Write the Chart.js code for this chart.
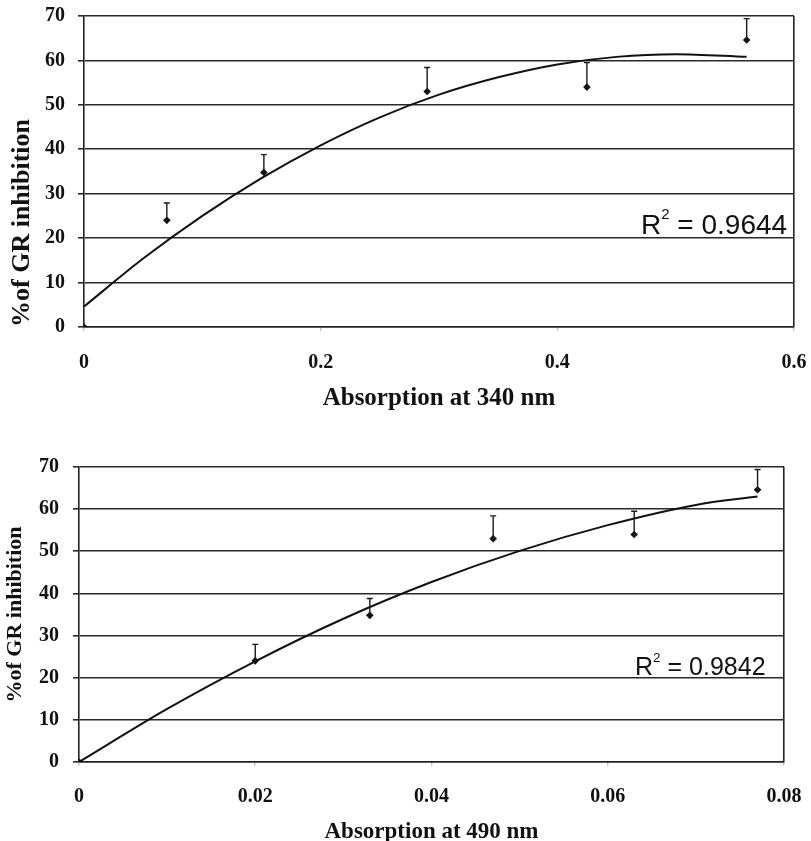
<!DOCTYPE html>
<html>
<head>
<meta charset="utf-8">
<script src="https://cdn.jsdelivr.net/npm/chart.js@4.4.1/dist/chart.umd.min.js"></script>
<style>
  html, body { margin: 0; padding: 0; background: #fff; }
  body { width: 811px; height: 841px; position: relative; overflow: hidden; }
  .wrap { position: absolute; left: 0; width: 811px; }
  #w1 { top: 0; height: 420px; }
  #w2 { top: 420px; height: 421px; }
  .r2 { position: absolute; font-family: "Liberation Sans", Arial, sans-serif; color: #111; white-space: nowrap; }
  .r2 .sup { position: relative; }
  #r2a { left: 641px; top: 211px; font-size: 28px; line-height: 28px; }
  #r2a .sup { font-size: 15px; top: -15px; }
  #r2b { left: 635px; top: 654px; font-size: 25px; line-height: 25px; }
  #r2b .sup { font-size: 13.5px; top: -13px; }
</style>
</head>
<body>
<div class="wrap" id="w1"><canvas id="c1" width="811" height="420"></canvas></div>
<div class="wrap" id="w2"><canvas id="c2" width="811" height="421"></canvas></div>
<div class="r2" id="r2a">R<span class="sup">2</span> = <span id="r2aVal"></span></div>
<div class="r2" id="r2b">R<span class="sup">2</span> = <span id="r2bVal"></span></div>
<script>
// ---- data ----
const absorb340 = [0, 0.07, 0.152, 0.29, 0.425, 0.56];
const absorb490 = [0, 0.02, 0.033, 0.047, 0.063, 0.077];
const inhibition = [0, 24.0, 34.8, 53.0, 54.0, 64.6];
const inhibitionErrTop = [0, 27.9, 38.8, 58.4, 59.5, 69.4];

// trend lines
const fit340X = [0, 0.05, 0.1, 0.15, 0.2, 0.25, 0.3, 0.35, 0.4, 0.45, 0.5, 0.56];
const fit340Y = [4.6, 15.4, 25.0, 33.5, 40.9, 47.2, 52.3, 56.2, 59.1, 60.8, 61.4, 60.8];
const fit490X = [0, 0.01, 0.02, 0.03, 0.04, 0.05, 0.06, 0.07, 0.077];
const fit490Y = [0, 12.6, 23.9, 34.0, 42.7, 50.1, 56.2, 61.0, 63.0];

// tick values and labels
const xTicks340 = [0, 0.2, 0.4, 0.6];
const xTickLabels340 = ['0', '0.2', '0.4', '0.6'];
const xTicks490 = [0, 0.02, 0.04, 0.06, 0.08];
const xTickLabels490 = ['0', '0.02', '0.04', '0.06', '0.08'];
const yTicks = [0, 10, 20, 30, 40, 50, 60, 70];
const yTickLabels = ['0', '10', '20', '30', '40', '50', '60', '70'];

// texts
const yTitle = '%of GR inhibition';
const xTitle340 = 'Absorption at 340 nm';
const xTitle490 = 'Absorption at 490 nm';
const r2Top = '0.9644';
const r2Bottom = '0.9842';

document.getElementById('r2aVal').textContent = r2Top;
document.getElementById('r2bVal').textContent = r2Bottom;

const SERIF = '"Liberation Serif", "Times New Roman", serif';

const errorBarPlugin = {
  id: 'errorBars',
  afterDatasetsDraw(chart) {
    const ctx = chart.ctx;
    const xs = chart.scales.x, ys = chart.scales.y;
    chart.data.datasets.forEach(ds => {
      if (!ds.errorTop) return;
      ctx.save();
      ctx.strokeStyle = '#1a1a1a';
      ctx.lineWidth = 1.4;
      ds.data.forEach((p, i) => {
        const top = ds.errorTop[i];
        if (!(top > p.y)) return;
        const px = xs.getPixelForValue(p.x);
        const py = ys.getPixelForValue(p.y);
        const pt = ys.getPixelForValue(top);
        ctx.beginPath();
        ctx.moveTo(px, py);
        ctx.lineTo(px, pt);
        ctx.moveTo(px - 3, pt);
        ctx.lineTo(px + 3, pt);
        ctx.stroke();
      });
      ctx.restore();
    });
  }
};

function zeroPad(s) {
  s.paddingTop = 0; s.paddingBottom = 0; s.paddingLeft = 0; s.paddingRight = 0;
}

function makeChart(id, cfg) {
  return new Chart(document.getElementById(id), {
    type: 'scatter',
    data: {
      datasets: [
        {
          label: 'measured',
          data: cfg.xs.map((x, i) => ({ x: x, y: inhibition[i] })),
          errorTop: inhibitionErrTop,
          pointStyle: 'rectRot',
          pointRadius: 3.8,
          backgroundColor: '#111',
          borderColor: '#111',
          borderWidth: 0,
          showLine: false
        },
        {
          label: 'fit',
          data: cfg.fitX.map((x, i) => ({ x: x, y: cfg.fitY[i] })),
          showLine: true,
          pointRadius: 0,
          borderColor: '#111',
          borderWidth: 2,
          cubicInterpolationMode: 'monotone',
          fill: false
        }
      ]
    },
    options: {
      responsive: false,
      animation: false,
      devicePixelRatio: 1,
      layout: { padding: cfg.pad },
      plugins: { legend: { display: false }, tooltip: { enabled: false } },
      scales: {
        x: {
          type: 'linear',
          min: cfg.xTicks[0],
          max: cfg.xTicks[cfg.xTicks.length - 1],
          afterBuildTicks: s => { s.ticks = cfg.xTicks.map(v => ({ value: v })); },
          afterFit: s => { s.height = cfg.xH; zeroPad(s); },
          ticks: {
            padding: cfg.xTickPad,
            color: '#111',
            maxRotation: 0,
            autoSkip: false,
            font: { family: SERIF, weight: 'bold', size: 20 },
            callback: (v, i) => cfg.xLabels[i]
          },
          grid: {
            drawOnChartArea: true,
            color: c => (c.index === cfg.xTicks.length - 1 ? '#222' : 'rgba(0,0,0,0)'),
            lineWidth: 1.6,
            drawTicks: true,
            tickLength: 4,
            tickColor: 'rgba(0,0,0,0.3)',
            tickWidth: 1
          },
          border: { display: true, color: '#222', width: 1.6 },
          title: {
            display: true,
            text: cfg.xTitle,
            color: '#111',
            font: { family: SERIF, weight: 'bold', size: cfg.xTitleSize, lineHeight: 1 },
            padding: { top: 0, bottom: cfg.xTitlePad }
          }
        },
        y: {
          type: 'linear',
          min: 0,
          max: 70,
          afterBuildTicks: s => { s.ticks = yTicks.map(v => ({ value: v })); },
          afterFit: s => { s.width = cfg.yW; zeroPad(s); },
          ticks: {
            padding: cfg.yTickPad,
            color: '#111',
            font: { family: SERIF, weight: 'bold', size: 20 },
            callback: (v, i) => yTickLabels[i]
          },
          grid: {
            color: '#2a2a2a',
            lineWidth: 1.6,
            drawTicks: true,
            tickLength: 6
          },
          border: { display: true, color: '#222', width: 1.6 },
          title: {
            display: true,
            text: yTitle,
            align: cfg.yTitleAlign,
            color: '#111',
            font: { family: SERIF, weight: 'bold', size: cfg.yTitleSize, lineHeight: 1 },
            padding: { top: cfg.yTitlePad, bottom: 0 }
          }
        }
      }
    },
    plugins: [errorBarPlugin]
  });
}

makeChart('c1', {
  xs: absorb340, fitX: fit340X, fitY: fit340Y,
  xTicks: xTicks340, xLabels: xTickLabels340, xTitle: xTitle340,
  pad: { top: 16, right: 17, bottom: 0, left: 0 },
  xH: 93, yW: 84, xTickPad: 20, yTickPad: 13,
  xTitleSize: 25, xTitlePad: 8.5,
  yTitleSize: 26, yTitlePad: 9.5, yTitleAlign: 'start'
});

makeChart('c2', {
  xs: absorb490, fitX: fit490X, fitY: fit490Y,
  xTicks: xTicks490, xLabels: xTickLabels490, xTitle: xTitle490,
  pad: { top: 47, right: 27, bottom: 0, left: 0 },
  xH: 79, yW: 79, xTickPad: 19, yTickPad: 14,
  xTitleSize: 23, xTitlePad: -2.5,
  yTitleSize: 22, yTitlePad: 4, yTitleAlign: 'center'
});
</script>
</body>
</html>
